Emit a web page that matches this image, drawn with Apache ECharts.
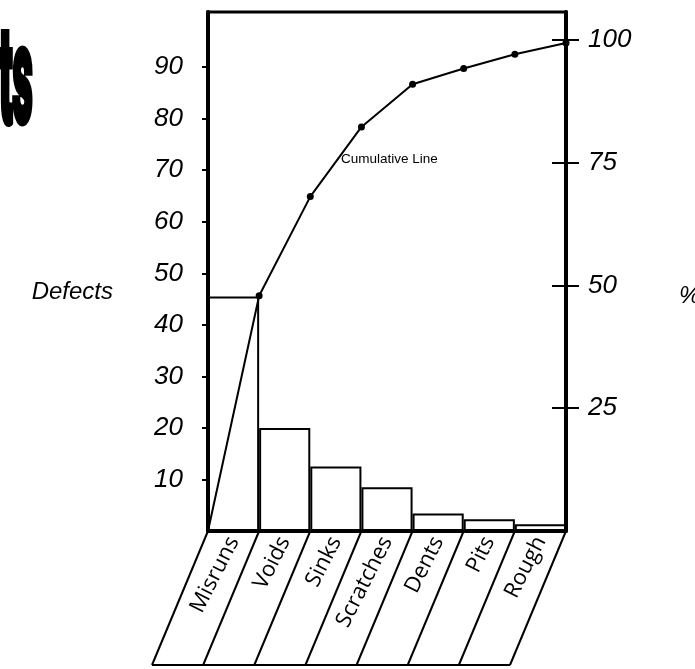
<!DOCTYPE html>
<html>
<head>
<meta charset="utf-8">
<script src="https://cdn.jsdelivr.net/npm/echarts@6/dist/echarts.min.js"></script>
<style>
  html, body { margin: 0; padding: 0; background: #fff; }
  #chart { width: 695px; height: 669px; }
</style>
</head>
<body>
<div id="chart"></div>
<script>
// Defect categories, ordered by count (Pareto order)
const categories = ['Misruns', 'Voids', 'Sinks', 'Scratches', 'Dents', 'Pits', 'Rough'];
// Number of defects per category
const defects = [45.5, 20, 12.5, 8.5, 3.4, 2.3, 1.3];
// Cumulative percentage at each category boundary (starts at 0 at the left edge)
const cumulativePct = [0, 47.9, 68.1, 82.3, 91.0, 94.2, 97.1, 99.4];
// Tick values for the two vertical scales
const countTicks = [10, 20, 30, 40, 50, 60, 70, 80, 90];
const pctTicks = [25, 50, 75, 100];

const chart = echarts.init(document.getElementById('chart'), null, { renderer: 'canvas' });

const digitFont = {
  fontFamily: '"Liberation Sans", Arial, sans-serif',
  fontStyle: 'italic',
  fontSize: 26,
  color: '#000'
};

const option = {
  animation: false,
  backgroundColor: '#fff',
  grid: {
    left: 208, right: 129, top: 12, bottom: 138,
    outerBoundsMode: 'none',
    containLabel: false,
    show: true, borderColor: '#000', borderWidth: 3, backgroundColor: 'transparent'
  },
  xAxis: [
    {
      type: 'category',
      data: categories,
      boundaryGap: true,
      axisLine: { show: true, lineStyle: { color: '#000', width: 3 } },
      axisTick: { show: false },
      splitLine: { show: false },
      axisLabel: {
        rotate: 63, margin: 7, interval: 0,
        fontFamily: '"Open Sans", sans-serif', fontSize: 22, color: '#000'
      }
    },
    { type: 'value', min: 0, max: categories.length, show: false }
  ],
  yAxis: [
    {
      type: 'value', min: 0, max: 100.7, position: 'left',
      axisLine: { show: true, lineStyle: { color: '#000', width: 4 } },
      axisTick: { show: true, customValues: countTicks, length: 6, lineStyle: { color: '#000', width: 2 } },
      axisLabel: Object.assign({ customValues: countTicks, margin: 25 }, digitFont),
      splitLine: { show: false }
    },
    {
      // percentage scale: ticks cross the right frame line
      type: 'value', min: 0, max: 105.7, position: 'right', offset: -14,
      axisLine: { show: false },
      axisTick: { show: true, customValues: pctTicks, length: 27, lineStyle: { color: '#000', width: 2 } },
      axisLabel: Object.assign({ customValues: pctTicks, margin: 36 }, digitFont),
      splitLine: { show: false }
    },
    {
      type: 'value', min: 0, max: 105.7, position: 'right',
      axisLine: { show: true, lineStyle: { color: '#000', width: 4 } },
      axisTick: { show: false }, axisLabel: { show: false }, splitLine: { show: false }
    }
  ],
  series: [
    {
      type: 'bar',
      data: defects,
      xAxisIndex: 0, yAxisIndex: 0,
      barCategoryGap: '0%',
      itemStyle: { color: '#fff', borderColor: '#000', borderWidth: 2 },
      z: 2
    },
    {
      type: 'line',
      data: cumulativePct.map((v, i) => i === 0 ? { value: [i, v], symbol: 'none' } : [i, v]),
      xAxisIndex: 1, yAxisIndex: 1,
      symbol: 'circle', symbolSize: 7,
      lineStyle: { color: '#000', width: 2 },
      itemStyle: { color: '#000' },
      z: 3
    }
  ]
};

chart.setOption(option);

// Slanted label panels beneath the category axis, derived from the category boundaries
const slantDx = 56;
const baseY = chart.convertToPixel({ yAxisIndex: 0 }, 0);
const panelBottom = 665;
const shapes = [];
let firstX = null, lastX = null;
for (let k = 0; k <= categories.length; k++) {
  const x = chart.convertToPixel({ xAxisIndex: 1 }, k);
  const bx = x - slantDx;
  if (k === 0) firstX = bx;
  lastX = bx;
  shapes.push({
    type: 'line', silent: true,
    shape: { x1: x, y1: baseY, x2: bx, y2: panelBottom },
    style: { stroke: '#000', lineWidth: 2 }
  });
}
shapes.push({
  type: 'line', silent: true,
  shape: { x1: firstX, y1: panelBottom, x2: lastX, y2: panelBottom },
  style: { stroke: '#000', lineWidth: 2 }
});

// Axis titles
shapes.push({
  type: 'text', silent: true, x: 113, y: 292,
  style: {
    text: 'Defects', font: 'italic 24px "Liberation Sans", Arial, sans-serif', fill: '#000',
    textAlign: 'right', textVerticalAlign: 'middle'
  }
});
shapes.push({
  type: 'text', silent: true, x: 679, y: 296,
  style: {
    text: '%', font: 'italic 24px "Liberation Sans", Arial, sans-serif', fill: '#000',
    textAlign: 'left', textVerticalAlign: 'middle'
  }
});

// Annotation next to the cumulative curve
shapes.push({
  type: 'text', silent: true, x: 341, y: 152,
  style: { text: 'Cumulative Line', font: '13.5px "Liberation Sans", Arial, sans-serif', fill: '#000' }
});

// Tail of the heavy page heading at the top-left corner
shapes.push({
  type: 'text', silent: true, x: -1, y: 20, scaleX: 0.68, scaleY: 2.35,
  style: {
    text: 'ts', font: '900 58px Roboto, "DejaVu Sans", sans-serif',
    fill: '#000', stroke: '#000', lineWidth: 3,
    textVerticalAlign: 'top'
  }
});

chart.setOption({ graphic: shapes });
</script>
</body>
</html>
